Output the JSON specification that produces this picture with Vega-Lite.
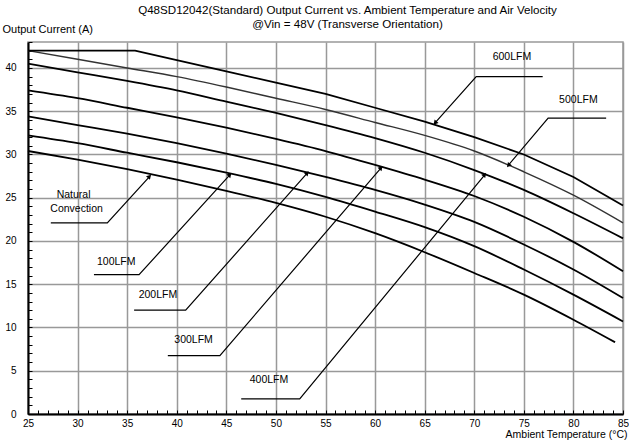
{
  "$schema": "https://vega.github.io/schema/vega-lite/v6.json",
  "width": 595,
  "height": 372,
  "autosize": {"type": "none"},
  "padding": {"left": 28, "top": 42, "right": 6, "bottom": 30},
  "background": "white",
  "config": {"view": {"stroke": "#999999", "strokeWidth": 1.5}, "font": "Liberation Sans"},
  "title": {
    "text": ["Q48SD12042(Standard)  Output Current vs. Ambient Temperature and Air Velocity", "@Vin = 48V (Transverse Orientation)"],
    "anchor": "middle",
    "dx": 22,
    "offset": -8,
    "fontSize": 11.6,
    "lineHeight": 14,
    "font": "Liberation Sans",
    "fontWeight": "normal",
    "color": "black"
  },
  "datasets": {
    "curves": [
      {"s": "500", "x": 25, "y": 42}, {"s": "500", "x": 30, "y": 41.0}, {"s": "500", "x": 35, "y": 40.0}, {"s": "500", "x": 40, "y": 39.0},
      {"s": "500", "x": 45, "y": 37.8}, {"s": "500", "x": 50, "y": 36.5}, {"s": "500", "x": 55, "y": 35.2}, {"s": "500", "x": 60, "y": 33.7},
      {"s": "500", "x": 65, "y": 32.2}, {"s": "500", "x": 70, "y": 30.4}, {"s": "500", "x": 75, "y": 28.0}, {"s": "500", "x": 80, "y": 25.3},
      {"s": "500", "x": 85, "y": 22.1},
      {"s": "400", "x": 25, "y": 40.5}, {"s": "400", "x": 30, "y": 39.5}, {"s": "400", "x": 35, "y": 38.5}, {"s": "400", "x": 40, "y": 37.4},
      {"s": "400", "x": 45, "y": 36.1}, {"s": "400", "x": 50, "y": 34.8}, {"s": "400", "x": 55, "y": 33.4}, {"s": "400", "x": 60, "y": 31.9},
      {"s": "400", "x": 65, "y": 30.2}, {"s": "400", "x": 70, "y": 28.2}, {"s": "400", "x": 75, "y": 25.9}, {"s": "400", "x": 80, "y": 23.2},
      {"s": "400", "x": 85, "y": 20.3},
      {"s": "300", "x": 25, "y": 37.4}, {"s": "300", "x": 30, "y": 36.5}, {"s": "300", "x": 35, "y": 35.4}, {"s": "300", "x": 40, "y": 34.3},
      {"s": "300", "x": 45, "y": 33.1}, {"s": "300", "x": 50, "y": 31.8}, {"s": "300", "x": 55, "y": 30.4}, {"s": "300", "x": 60, "y": 28.8},
      {"s": "300", "x": 65, "y": 27.1}, {"s": "300", "x": 70, "y": 25.2}, {"s": "300", "x": 75, "y": 22.8}, {"s": "300", "x": 80, "y": 19.9},
      {"s": "300", "x": 85, "y": 16.5},
      {"s": "200", "x": 25, "y": 34.4}, {"s": "200", "x": 30, "y": 33.4}, {"s": "200", "x": 35, "y": 32.4}, {"s": "200", "x": 40, "y": 31.3},
      {"s": "200", "x": 45, "y": 30.1}, {"s": "200", "x": 50, "y": 28.8}, {"s": "200", "x": 55, "y": 27.4}, {"s": "200", "x": 60, "y": 25.9},
      {"s": "200", "x": 65, "y": 24.2}, {"s": "200", "x": 70, "y": 22.2}, {"s": "200", "x": 75, "y": 19.6}, {"s": "200", "x": 80, "y": 16.7},
      {"s": "200", "x": 85, "y": 13.4},
      {"s": "100", "x": 25, "y": 32.2}, {"s": "100", "x": 30, "y": 31.3}, {"s": "100", "x": 35, "y": 30.2}, {"s": "100", "x": 40, "y": 29.1},
      {"s": "100", "x": 45, "y": 27.9}, {"s": "100", "x": 50, "y": 26.6}, {"s": "100", "x": 55, "y": 25.1}, {"s": "100", "x": 60, "y": 23.4},
      {"s": "100", "x": 65, "y": 21.6}, {"s": "100", "x": 70, "y": 19.4}, {"s": "100", "x": 75, "y": 16.7}, {"s": "100", "x": 80, "y": 13.8},
      {"s": "100", "x": 85, "y": 10.7},
      {"s": "NC", "x": 25, "y": 30.4}, {"s": "NC", "x": 30, "y": 29.4}, {"s": "NC", "x": 35, "y": 28.3}, {"s": "NC", "x": 40, "y": 27.1},
      {"s": "NC", "x": 45, "y": 25.8}, {"s": "NC", "x": 50, "y": 24.4}, {"s": "NC", "x": 55, "y": 22.8}, {"s": "NC", "x": 60, "y": 20.9},
      {"s": "NC", "x": 65, "y": 18.7}, {"s": "NC", "x": 70, "y": 16.3}, {"s": "NC", "x": 75, "y": 13.8}, {"s": "NC", "x": 80, "y": 10.9},
      {"s": "NC", "x": 84.2, "y": 8.3}
    ],
    "top": [
      {"s": "600", "x": 25, "y": 42}, {"s": "600", "x": 35.8, "y": 42},
      {"s": "600", "x": 40, "y": 40.9}, {"s": "600", "x": 45, "y": 39.6}, {"s": "600", "x": 50, "y": 38.3}, {"s": "600", "x": 55, "y": 37.0},
      {"s": "600", "x": 60, "y": 35.4}, {"s": "600", "x": 65, "y": 33.8}, {"s": "600", "x": 70, "y": 32.0}, {"s": "600", "x": 75, "y": 30.0},
      {"s": "600", "x": 80, "y": 27.4}, {"s": "600", "x": 85, "y": 24.1}
    ],
    "leaders": [
      {"a": "NC", "o": 1, "x": 27.3, "y": 22.1}, {"a": "NC", "o": 2, "x": 33.0, "y": 22.1}, {"a": "NC", "o": 3, "x": 37.3, "y": 27.5},
      {"a": "100", "o": 1, "x": 31.65, "y": 16.1}, {"a": "100", "o": 2, "x": 36.2, "y": 16.1}, {"a": "100", "o": 3, "x": 45.4, "y": 27.7},
      {"a": "200", "o": 1, "x": 35.7, "y": 12.0}, {"a": "200", "o": 2, "x": 40.9, "y": 12.0}, {"a": "200", "o": 3, "x": 53.2, "y": 27.9},
      {"a": "300", "o": 1, "x": 39.1, "y": 6.75}, {"a": "300", "o": 2, "x": 44.35, "y": 6.75}, {"a": "300", "o": 3, "x": 60.65, "y": 28.5},
      {"a": "400", "o": 1, "x": 46.5, "y": 1.74}, {"a": "400", "o": 2, "x": 52.4, "y": 1.74}, {"a": "400", "o": 3, "x": 71.1, "y": 27.7},
      {"a": "500", "o": 1, "x": 83.3, "y": 34.2}, {"a": "500", "o": 2, "x": 77.45, "y": 34.2}, {"a": "500", "o": 3, "x": 73.4, "y": 28.7},
      {"a": "600", "o": 1, "x": 76.9, "y": 39.0}, {"a": "600", "o": 2, "x": 70.2, "y": 39.0}, {"a": "600", "o": 3, "x": 66.0, "y": 33.6}
    ],
    "heads": [
      {"a": "NC", "x": 37.2, "y": 27.4, "dir": 42},
      {"a": "100", "x": 45.3, "y": 27.6, "dir": 42},
      {"a": "200", "x": 53.1, "y": 27.8, "dir": 42},
      {"a": "300", "x": 60.55, "y": 28.4, "dir": 41},
      {"a": "400", "x": 71.0, "y": 27.6, "dir": 40},
      {"a": "500", "x": 73.5, "y": 28.8, "dir": 220},
      {"a": "600", "x": 66.1, "y": 33.7, "dir": 222}
    ],
    "labels": [
      {"t": "Natural", "x": 29.6, "y": 25.3},
      {"t": "Convection", "x": 29.9, "y": 23.7},
      {"t": "100LFM", "x": 33.9, "y": 17.6},
      {"t": "200LFM", "x": 38.1, "y": 13.8},
      {"t": "300LFM", "x": 41.7, "y": 8.6},
      {"t": "400LFM", "x": 49.3, "y": 3.9},
      {"t": "500LFM", "x": 80.5, "y": 36.3},
      {"t": "600LFM", "x": 73.8, "y": 41.3}
    ]
  },
  "encoding": {
    "x": {
      "field": "x", "type": "quantitative",
      "scale": {"domain": [25, 85], "nice": false, "zero": false},
      "axis": {
        "values": [25,26,27,28,29,30,31,32,33,34,35,36,37,38,39,40,41,42,43,44,45,46,47,48,49,50,51,52,53,54,55,56,57,58,59,60,61,62,63,64,65,66,67,68,69,70,71,72,73,74,75,76,77,78,79,80,81,82,83,84,85],
        "labelExpr": "datum.value % 5 === 0 ? datum.label : ''",
        "grid": true,
        "gridColor": "#999999",
        "gridWidth": 1.5,
        "gridOpacity": {"condition": {"test": "datum.value % 5 === 0", "value": 1}, "value": 0},
        "domainColor": "black",
        "domainWidth": 2,
        "tickColor": "black",
        "tickWidth": 1,
        "tickSize": -4,
        "labelPadding": 8,
        "labelFontSize": 10,
        "labelFont": "Liberation Sans",
        "labelColor": "black",
        "labelFlush": false,
        "labelOverlap": false,
        "title": "Ambient Temperature (°C)",
        "titleFont": "Liberation Sans",
        "titleFontSize": 10.5,
        "titleFontWeight": "normal",
        "titleColor": "black",
        "titleAnchor": "end",
        "titleAlign": "right",
        "titleX": 599,
        "titleY": 23,
        "titleBaseline": "alphabetic"
      }
    },
    "y": {
      "field": "y", "type": "quantitative",
      "scale": {"domain": [0, 43], "nice": false, "zero": false},
      "axis": {
        "values": [0,1,2,3,4,5,6,7,8,9,10,11,12,13,14,15,16,17,18,19,20,21,22,23,24,25,26,27,28,29,30,31,32,33,34,35,36,37,38,39,40,41,42,43],
        "labelExpr": "datum.value % 5 === 0 ? datum.label : ''",
        "grid": true,
        "gridColor": "#999999",
        "gridWidth": 1.5,
        "gridOpacity": {"condition": {"test": "datum.value % 5 === 0", "value": 1}, "value": 0},
        "domainColor": "black",
        "domainWidth": 2,
        "tickColor": "black",
        "tickWidth": 1,
        "tickSize": -4,
        "labelPadding": 16,
        "labelFontSize": 10,
        "labelFont": "Liberation Sans",
        "labelColor": "black",
        "labelOverlap": false,
        "labelFlush": false,
        "title": "Output Current (A)",
        "titleFont": "Liberation Sans",
        "titleFontSize": 11,
        "titleFontWeight": "normal",
        "titleColor": "black",
        "titleAngle": 0,
        "titleAlign": "left",
        "titleBaseline": "middle",
        "titleX": -26,
        "titleY": -13
      }
    }
  },
  "layer": [
    {
      "data": {"name": "curves"},
      "mark": {"type": "line", "strokeCap": "butt", "interpolate": "monotone"},
      "encoding": {
        "detail": {"field": "s", "type": "nominal"},
        "order": {"field": "x", "type": "quantitative"},
        "color": {"condition": {"test": "datum.s === '500'", "value": "#333333"}, "value": "black"},
        "strokeWidth": {"condition": {"test": "datum.s === '500'", "value": 1.4}, "value": 1.8}
      }
    },
    {
      "data": {"name": "top"},
      "mark": {"type": "line", "strokeCap": "butt", "interpolate": "linear", "color": "black", "strokeWidth": 1.8},
      "encoding": {
        "order": {"field": "x", "type": "quantitative"}
      }
    },
    {
      "data": {"name": "leaders"},
      "mark": {"type": "line", "color": "black", "strokeWidth": 1.2},
      "encoding": {
        "detail": {"field": "a", "type": "nominal"},
        "order": {"field": "o", "type": "quantitative"}
      }
    },
    {
      "data": {"name": "heads"},
      "mark": {"type": "point", "shape": "triangle", "filled": true, "color": "black", "size": 28, "opacity": 1},
      "encoding": {
        "angle": {"field": "dir", "type": "quantitative", "scale": null}
      }
    },
    {
      "data": {"name": "labels"},
      "mark": {"type": "text", "font": "Liberation Sans", "fontSize": 10.5, "color": "black", "align": "center", "baseline": "middle"},
      "encoding": {
        "text": {"field": "t", "type": "nominal"}
      }
    }
  ]
}
